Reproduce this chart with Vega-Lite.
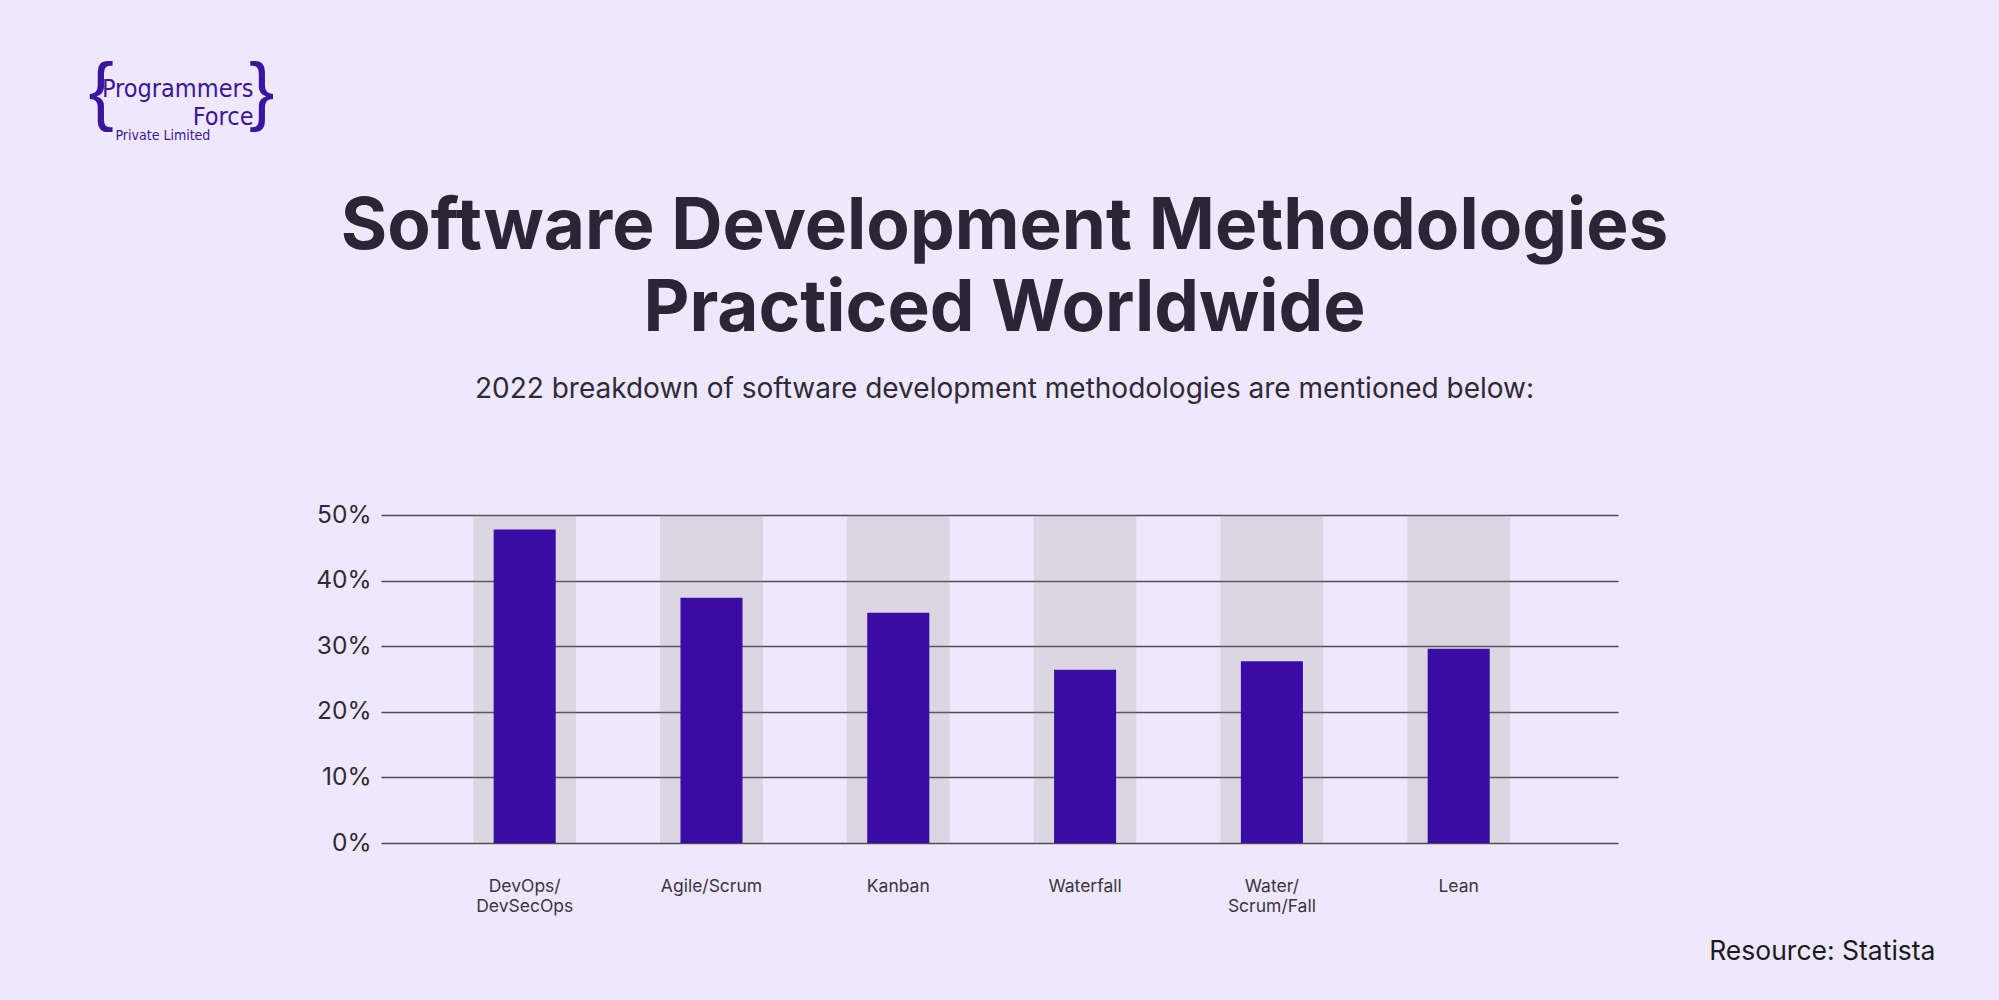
{
  "$schema": "https://vega.github.io/schema/vega-lite/v6.json",
  "width": 1237,
  "height": 328,
  "autosize": {"type": "none"},
  "padding": {"left": 381, "top": 515, "right": 381, "bottom": 157},
  "background": "#efe8fc",
  "config": {"view": {"stroke": null}, "font": "Inter"},
  "title": {
    "text": ["Software Development Methodologies", "Practiced Worldwide"],
    "subtitle": "2022 breakdown of software development methodologies are mentioned below:",
    "anchor": "middle",
    "frame": "group",
    "dx": 5,
    "dy": 451,
    "font": "Inter",
    "fontSize": 71,
    "fontWeight": 700,
    "color": "#2a2537",
    "lineHeight": 82,
    "subtitleFont": "Inter",
    "subtitleFontSize": 28,
    "subtitleFontWeight": 400,
    "subtitleColor": "#2d2a3a",
    "subtitlePadding": 30,
    "offset": 100
  },
  "data": {
    "values": [
      {"method": "DevOps/DevSecOps", "share": 47.8},
      {"method": "Agile/Scrum", "share": 37.4},
      {"method": "Kanban", "share": 35.1},
      {"method": "Waterfall", "share": 26.4},
      {"method": "Water/Scrum/Fall", "share": 27.7},
      {"method": "Lean", "share": 29.6}
    ]
  },
  "resolve": {"axis": {"x": "independent", "y": "independent"}},
  "layer": [
    {
      "mark": {"type": "bar", "fill": "#908e7f", "fillOpacity": 0.2},
      "encoding": {
        "x": {
          "field": "method",
          "type": "nominal",
          "sort": null,
          "scale": {"paddingInner": 0.45, "paddingOuter": 0.536, "align": 0.461},
          "axis": {
            "orient": "bottom",
            "domain": false,
            "ticks": false,
            "labelAngle": 0,
            "labelPadding": 43,
            "labelBaseline": "middle",
            "labelFont": "Inter",
            "labelFontSize": 17.5,
            "labelLineHeight": 20,
            "labelColor": "#3a3545",
            "labelExpr": "datum.label == 'DevOps/DevSecOps' ? ['DevOps/', 'DevSecOps'] : datum.label == 'Water/Scrum/Fall' ? ['Water/', 'Scrum/Fall'] : datum.label",
            "title": "Resource: Statista",
            "titleFont": "Inter",
            "titleFontSize": 26.5,
            "titleFontWeight": 400,
            "titleColor": "#1a1a22",
            "titleAlign": "right",
            "titleAnchor": "end",
            "titleBaseline": "alphabetic",
            "titleX": 1554,
            "titleY": 116.5
          }
        },
        "y": {
          "datum": 50,
          "type": "quantitative",
          "scale": {"domain": [0, 50], "nice": false},
          "axis": {
            "orient": "left",
            "values": [0, 10, 20, 30, 40, 50],
            "labelExpr": "datum.value + '%'",
            "domain": false,
            "ticks": false,
            "grid": true,
            "gridColor": "#4d4b55",
            "gridWidth": 1.6,
            "gridOpacity": 1,
            "labelPadding": 10,
            "labelFont": "Inter",
            "labelFontSize": 24.5,
            "labelColor": "#2d2a3a",
            "title": ["Programmers", "Force"],
            "titleAngle": 0,
            "titleAlign": "right",
            "titleBaseline": "alphabetic",
            "titleFont": "DejaVu Sans Condensed",
            "titleFontSize": 25,
            "titleFontWeight": 400,
            "titleLineHeight": 28.5,
            "titleColor": "#3b14a0",
            "titleX": -128,
            "titleY": -418.6
          }
        }
      }
    },
    {
      "mark": {"type": "bar", "color": "#3a0ca3", "width": {"band": 0.604}},
      "encoding": {
        "x": {
          "field": "method",
          "type": "nominal",
          "sort": null,
          "axis": {
            "orient": "top",
            "labels": false,
            "ticks": false,
            "domain": false,
            "grid": false,
            "title": "{\u2003\u2002\u00a0}",
            "titleFont": "Liberation Sans",
            "titleFontSize": 76,
            "titleFontWeight": 400,
            "titleColor": "#3b14a0",
            "titleAlign": "left",
            "titleAnchor": "start",
            "titleBaseline": "alphabetic",
            "titleX": -293,
            "titleY": -400
          }
        },
        "y": {
          "field": "share",
          "type": "quantitative",
          "axis": {
            "orient": "right",
            "labels": false,
            "ticks": false,
            "domain": false,
            "grid": false,
            "title": "Private Limited",
            "titleAngle": 0,
            "titleAlign": "left",
            "titleBaseline": "alphabetic",
            "titleFont": "DejaVu Sans Condensed",
            "titleFontSize": 14,
            "titleFontWeight": 400,
            "titleColor": "#3b14a0",
            "titleX": -1503,
            "titleY": -376
          }
        }
      }
    }
  ]
}
